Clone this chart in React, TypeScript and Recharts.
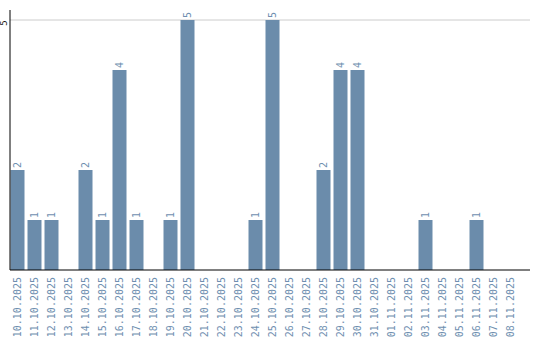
import React from 'react';
import { BarChart, Bar, XAxis, YAxis, CartesianGrid, LabelList } from 'recharts';

const dates = [
  '10.10.2025', '11.10.2025', '12.10.2025', '13.10.2025', '14.10.2025', '15.10.2025',
  '16.10.2025', '17.10.2025', '18.10.2025', '19.10.2025', '20.10.2025', '21.10.2025',
  '22.10.2025', '23.10.2025', '24.10.2025', '25.10.2025', '26.10.2025', '27.10.2025',
  '28.10.2025', '29.10.2025', '30.10.2025', '31.10.2025', '01.11.2025', '02.11.2025',
  '03.11.2025', '04.11.2025', '05.11.2025', '06.11.2025', '07.11.2025', '08.11.2025'
];
const counts = [2, 1, 1, 0, 2, 1, 4, 1, 0, 1, 5, 0, 0, 0, 1, 5, 0, 0, 2, 4, 4, 0, 0, 0, 1, 0, 0, 1, 0, 0];
const yTicks = [5];

const BAR_COLOR = '#6b8cab';
const TEXT_COLOR = '#6f8fb0';
const MONO = '"DejaVu Sans Mono", "Liberation Mono", monospace';

const data = dates.map((date, i) => ({ date, count: counts[i] }));

// rotated date under each bar
const DateTick = (props: any) => {
  const { x, y, payload } = props;
  const bx = x + 3.5;
  const by = y + 7;
  return (
    <text
      x={bx}
      y={by}
      transform={`rotate(-90, ${bx}, ${by})`}
      textAnchor="end"
      fill={TEXT_COLOR}
      fontSize={10}
      fontFamily={MONO}
    >
      {payload.value}
    </text>
  );
};

const ValueTick = (props: any) => {
  const { y, payload } = props;
  const bx = 7;
  const by = y + 3;
  return (
    <text
      x={bx}
      y={by}
      transform={`rotate(-90, ${bx}, ${by})`}
      textAnchor="middle"
      fill="#111"
      fontSize={9}
      fontFamily={MONO}
    >
      {payload.value}
    </text>
  );
};

// value above the bar, rotated like the dates
const BarValue = (props: any) => {
  const { x, y, width, value } = props;
  if (!value) return null;
  const bx = x + width / 2 + 3.5;
  const by = y - 2;
  return (
    <text
      x={bx}
      y={by}
      transform={`rotate(-90, ${bx}, ${by})`}
      textAnchor="start"
      fill={TEXT_COLOR}
      fontSize={10}
      fontFamily={MONO}
    >
      {value}
    </text>
  );
};

export default function App() {
  return (
    <div style={{ position: 'absolute', left: 0, top: 0, background: '#fff' }}>
      <BarChart
        width={540}
        height={340}
        data={data}
        margin={{ top: 10, right: 10, bottom: 69, left: 9 }}
      >
        <CartesianGrid vertical={false} stroke="#cccccc" horizontalValues={yTicks} />
        <XAxis
          dataKey="date"
          interval={0}
          height={1}
          tickSize={0}
          tickMargin={0}
          tick={<DateTick />}
          padding={{ left: -1.5, right: 11.5 }}
          axisLine={{ stroke: '#000' }}
          tickLine={false}
        />
        <YAxis
          width={1}
          domain={[0, 5.2]}
          ticks={yTicks}
          tickSize={0}
          tickMargin={0}
          tick={<ValueTick />}
          axisLine={{ stroke: '#000' }}
          tickLine={false}
        />
        <Bar dataKey="count" fill={BAR_COLOR} barSize={14} isAnimationActive={false}>
          <LabelList dataKey="count" content={<BarValue />} />
        </Bar>
      </BarChart>
    </div>
  );
}
